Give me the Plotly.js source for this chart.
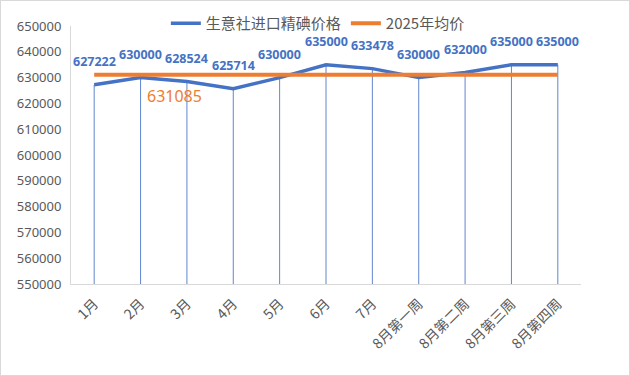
<!DOCTYPE html>
<html>
<head>
<meta charset="utf-8">
<script src="https://cdn.plot.ly/plotly-3.0.1.min.js"></script>
<style>
html,body{margin:0;padding:0;background:#fff;}
#chart{width:630px;height:376px;box-sizing:border-box;border:1px solid #D9D9D9;}
</style>
</head>
<body>
<div id="chart"></div>
<script>
const categories = ["1月","2月","3月","4月","5月","6月","7月","8月第一周","8月第二周","8月第三周","8月第四周"];
const priceValues = [627222,630000,628524,625714,630000,635000,633478,630000,632000,635000,635000];
const avgValue = 631085;
const seriesNames = ["生意社进口精碘价格","2025年均价"];
const yMin = 550000, yMax = 650000, yStep = 10000;

const blue = "#4472C4", orange = "#ED7D31", gray = "#595959";
const cjk = "'Microsoft YaHei','Noto Sans CJK SC','Noto Sans',sans-serif";

const avgValues = categories.map(() => avgValue);

const traces = [
  {
    x: categories, y: priceValues, type: "scatter", mode: "lines",
    name: seriesNames[0],
    line: {color: blue, width: 3.5},
    error_y: {type: "data", symmetric: false, array: priceValues.map(() => 0),
              arrayminus: priceValues.map(v => v - yMin), color: "rgba(68,114,196,0.85)", thickness: 1, width: 0},
    hoverinfo: "skip"
  },
  {
    x: categories, y: avgValues, type: "scatter", mode: "lines",
    name: seriesNames[1],
    line: {color: orange, width: 4},
    hoverinfo: "skip"
  }
];

const annotations = priceValues.map((v, i) => ({
  x: categories[i], y: v, text: String(v), showarrow: false,
  xanchor: "center", yanchor: "middle", yshift: 23,
  font: {family: "'Noto Sans',sans-serif", size: 12.5, color: blue, weight: "bold"}
}));
annotations.push({
  x: categories[1], y: avgValue, text: String(avgValue), showarrow: false,
  xanchor: "left", yanchor: "middle", xshift: 4, yshift: -21,
  font: {family: "'Noto Sans',sans-serif", size: 16, color: orange}
});

const layout = {
  width: 628, height: 374,
  margin: {l: 70, r: 48, t: 25, b: 91, pad: 0, autoexpand: false},
  paper_bgcolor: "#fff", plot_bgcolor: "#fff",
  showlegend: true,
  legend: {orientation: "h", x: 0.484, xanchor: "center", y: 1.01, yanchor: "middle",
           font: {family: cjk, size: 15, color: gray}, itemwidth: 30, tracegroupgap: 0},
  xaxis: {
    type: "category", categoryorder: "array", categoryarray: categories,
    range: [-0.5, categories.length - 0.5],
    showline: true, linecolor: "#D9D9D9", linewidth: 1,
    showgrid: false, zeroline: false, ticks: "",
    tickangle: -45, tickfont: {family: cjk, size: 14, color: gray},
    ticklabelstandoff: 5
  },
  yaxis: {
    range: [yMin, yMax], dtick: yStep, tick0: yMin, tickformat: "d",
    showline: true, linecolor: "#D9D9D9", linewidth: 1,
    showgrid: false, zeroline: false, ticks: "",
    tickfont: {family: "'Noto Sans',sans-serif", size: 13, color: gray},
    ticklabelstandoff: 6
  },
  annotations: annotations
};

Plotly.newPlot("chart", traces, layout, {displayModeBar: false, staticPlot: true});
</script>
</body>
</html>
